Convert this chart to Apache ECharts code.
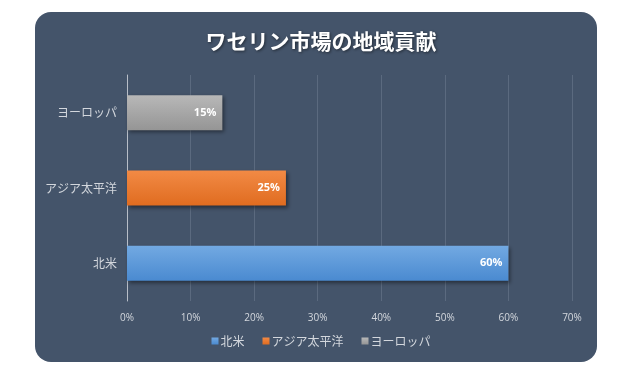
<!DOCTYPE html>
<html><head><meta charset="utf-8">
<script src="https://cdn.jsdelivr.net/npm/echarts@6/dist/echarts.min.js"></script>
<style>html,body{margin:0;padding:0;background:#fff;}#c{width:642px;height:383px;}</style>
</head><body><div id="c"></div>
<script>
const categories = ['北米', 'アジア太平洋', 'ヨーロッパ'];
const values = [60, 25, 15];
const xTicks = [0, 10, 20, 30, 40, 50, 60, 70];
const colors = [['#72a9e2', '#4a8ad0'], ['#f28a45', '#e06c20'], ['#b8b8b8', '#959595']];

const chart = echarts.init(document.getElementById('c'));
const series = categories.map((name, i) => ({
  name: name,
  type: 'bar',
  stack: 'all',
  barWidth: 35,
  data: categories.map((c, j) => j === i ? values[i] : null),
  itemStyle: {
    color: new echarts.graphic.LinearGradient(0, 0, 0, 1, [
      { offset: 0, color: colors[i][0] }, { offset: 1, color: colors[i][1] }]),
    shadowColor: 'rgba(0,0,0,0.45)', shadowBlur: 4, shadowOffsetX: 2, shadowOffsetY: 2
  },
  label: {
    show: true, position: 'insideRight', formatter: '{c}%', color: '#fff',
    fontFamily: 'Open Sans', fontWeight: 'bold', fontSize: 11, distance: 6
  }
}));

chart.setOption({
  backgroundColor: '#fff',
  graphic: [{
    type: 'rect', z: -10, silent: true,
    shape: { x: 35, y: 12, width: 562, height: 350, r: 16 },
    style: { fill: '#44546a' }
  }],
  title: {
    text: 'ワセリン市場の地域貢献', left: 'center', top: 26,
    textStyle: { color: '#fff', fontSize: 21, fontWeight: 'bold', fontFamily: 'Noto Sans CJK JP',
      textShadowColor: 'rgba(0,0,0,0.5)', textShadowBlur: 3, textShadowOffsetX: 1, textShadowOffsetY: 1 }
  },
  legend: {
    data: categories, bottom: 31, left: 'center', itemWidth: 7, itemHeight: 7, itemGap: 18,
    icon: 'rect',
    textStyle: { color: '#d3d7dd', fontSize: 12, fontFamily: 'Noto Sans CJK JP', padding: [0, 0, 0, -3] }
  },
  grid: { left: 127, right: 70, top: 75, bottom: 82, containLabel: false },
  xAxis: {
    type: 'value', min: 0, max: 70, interval: 10,
    axisLine: { show: false }, axisTick: { show: false },
    splitLine: { lineStyle: { color: '#5b6a7f', width: 1 } },
    axisLabel: { formatter: v => xTicks.includes(v) ? v + '%' : '', color: '#d3d7dd', fontSize: 10, fontFamily: 'Open Sans', margin: 12 }
  },
  yAxis: {
    type: 'category', data: categories,
    axisLine: { show: true, lineStyle: { color: '#b8bec8', width: 1 } }, axisTick: { show: false },
    axisLabel: { color: '#d3d7dd', fontSize: 12, fontFamily: 'Noto Sans CJK JP', margin: 10 }
  },
  series: series
});
</script></body></html>
